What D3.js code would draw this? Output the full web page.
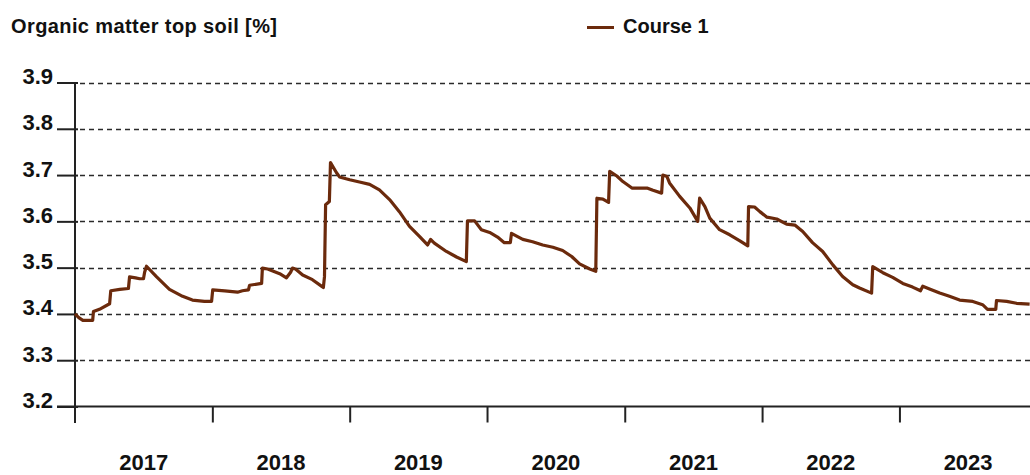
<!DOCTYPE html>
<html>
<head>
<meta charset="utf-8">
<script src="https://cdn.jsdelivr.net/npm/d3@7"></script>
<style>
  body { margin: 0; background: #fff; }
  text { font-family: "Liberation Sans", Arial, sans-serif; font-weight: bold; fill: #111; }
</style>
</head>
<body>
<svg id="chart" width="1030" height="475"></svg>
<script>
const width = 1030;
const height = 475;

const yTitle = "Organic matter top soil [%]";
const seriesName = "Course 1";
const yTicks = [3.2, 3.3, 3.4, 3.5, 3.6, 3.7, 3.8, 3.9];

// sample dates of the course
const dates = [
  "2017-01-01", "2017-01-11", "2017-01-22", "2017-02-17", "2017-02-19", "2017-03-07", "2017-04-03",
  "2017-04-06", "2017-04-30", "2017-05-23", "2017-05-26", "2017-06-11", "2017-06-22", "2017-07-02",
  "2017-07-05", "2017-07-10", "2017-08-06", "2017-09-09", "2017-10-14", "2017-11-09", "2017-12-11",
  "2017-12-30", "2018-01-02", "2018-02-03", "2018-03-09", "2018-03-22", "2018-04-07", "2018-04-10",
  "2018-05-12", "2018-05-14", "2018-05-28", "2018-06-29", "2018-07-17", "2018-07-28", "2018-08-02",
  "2018-08-10", "2018-08-29", "2018-09-24", "2018-10-18", "2018-10-23", "2018-10-26", "2018-10-29",
  "2018-11-08", "2018-11-11", "2018-11-27", "2018-12-05", "2019-01-01", "2019-01-27", "2019-02-23",
  "2019-03-21", "2019-04-17", "2019-05-13", "2019-06-09", "2019-07-06", "2019-07-27", "2019-08-04",
  "2019-08-14", "2019-09-15", "2019-10-12", "2019-11-07", "2019-11-10", "2019-11-29", "2019-12-17",
  "2020-01-08", "2020-01-29", "2020-02-16", "2020-03-03", "2020-03-06", "2020-04-05", "2020-05-01",
  "2020-05-28", "2020-06-24", "2020-07-20", "2020-08-13", "2020-09-03", "2020-09-30", "2020-10-16",
  "2020-10-19", "2020-11-04", "2020-11-19", "2020-11-22", "2020-12-11", "2020-12-27", "2021-01-20",
  "2021-03-01", "2021-03-17", "2021-04-09", "2021-04-12", "2021-04-23", "2021-04-30", "2021-05-27",
  "2021-06-23", "2021-07-14", "2021-07-19", "2021-08-02", "2021-08-15", "2021-09-10", "2021-10-07",
  "2021-11-03", "2021-11-24", "2021-11-26", "2021-12-12", "2021-12-26", "2022-01-14", "2022-02-09",
  "2022-03-07", "2022-03-29", "2022-04-19", "2022-05-15", "2022-06-11", "2022-07-08", "2022-08-03",
  "2022-08-30", "2022-09-17", "2022-10-19", "2022-10-22", "2022-11-18", "2022-12-14", "2023-01-10",
  "2023-02-05", "2023-02-26", "2023-03-04", "2023-03-22", "2023-04-18", "2023-05-14", "2023-06-10",
  "2023-07-15", "2023-08-10", "2023-08-23", "2023-09-14", "2023-09-16", "2023-10-13", "2023-11-08",
  "2023-12-13"
];

// organic matter [%]
const values = [
  3.400, 3.392, 3.386, 3.386, 3.405, 3.410, 3.422,
  3.450, 3.453, 3.455, 3.480, 3.478, 3.476, 3.476,
  3.490, 3.503, 3.480, 3.453, 3.438, 3.430, 3.427,
  3.427, 3.452, 3.450, 3.447, 3.450, 3.452, 3.462,
  3.466, 3.499, 3.497, 3.487, 3.478, 3.490, 3.499,
  3.497, 3.484, 3.474, 3.460, 3.457, 3.480, 3.636,
  3.643, 3.727, 3.705, 3.696, 3.690, 3.685, 3.680,
  3.668, 3.647, 3.621, 3.589, 3.567, 3.549, 3.561,
  3.553, 3.535, 3.523, 3.513, 3.601, 3.601, 3.582,
  3.576, 3.566, 3.554, 3.554, 3.574, 3.561, 3.556,
  3.549, 3.544, 3.537, 3.524, 3.508, 3.497, 3.492,
  3.650, 3.648, 3.641, 3.708, 3.698, 3.686, 3.672,
  3.672, 3.667, 3.661, 3.700, 3.697, 3.683, 3.654,
  3.629, 3.600, 3.650, 3.632, 3.607, 3.582, 3.571,
  3.558, 3.547, 3.632, 3.631, 3.621, 3.609, 3.605,
  3.594, 3.592, 3.578, 3.554, 3.535, 3.506, 3.481,
  3.463, 3.456, 3.445, 3.502, 3.489, 3.479, 3.466,
  3.458, 3.450, 3.460, 3.454, 3.445, 3.438, 3.430,
  3.427, 3.420, 3.410, 3.410, 3.429, 3.427, 3.423,
  3.421
];

const parse = d3.timeParse("%Y-%m-%d");
const data = dates.map((d, i) => ({ date: parse(d), value: values[i] }));

const svg = d3.select("#chart");

const x = d3.scaleTime()
  .domain([parse("2017-01-01"), parse("2023-12-14")])
  .range([75, 1030]);

const y = d3.scaleLinear()
  .domain([3.2, 3.9])
  .range([406.5, 82.5]);

// title + legend
svg.append("text")
  .attr("x", 11)
  .attr("y", 33)
  .attr("font-size", 20)
  .attr("letter-spacing", 0.4)
  .text(yTitle);

svg.append("line")
  .attr("x1", 587).attr("x2", 614)
  .attr("y1", 27.5).attr("y2", 27.5)
  .attr("stroke", "#6b2a0c")
  .attr("stroke-width", 3);

svg.append("text")
  .attr("x", 623)
  .attr("y", 33)
  .attr("font-size", 20)
  .text(seriesName);

// dashed grid
svg.append("g")
  .selectAll("line")
  .data(yTicks.filter(d => d > 3.2))
  .join("line")
  .attr("x1", 80).attr("x2", width)
  .attr("y1", d => Math.round(y(d)) + 0.5)
  .attr("y2", d => Math.round(y(d)) + 0.5)
  .attr("stroke", "#2a2a2a")
  .attr("stroke-width", 1.6)
  .attr("stroke-dasharray", "5,4");

// y axis
const yAxis = svg.append("g")
  .attr("transform", "translate(75,0)")
  .call(d3.axisLeft(y).tickValues(yTicks).tickFormat(d3.format(".1f")).tickSize(18).tickPadding(4));
yAxis.select(".domain").remove();
yAxis.selectAll(".tick line").attr("stroke", "#222").attr("stroke-width", 2).attr("x2", -18).attr("x1", 3);
yAxis.selectAll(".tick text")
  .attr("font-size", 22)
  .attr("dy", "0")
  .attr("y", 1)
  .attr("fill", "#111")
  .style("font-family", "'Liberation Sans', Arial, sans-serif")
  .style("font-weight", "bold");

svg.append("line")
  .attr("x1", 75).attr("x2", 75)
  .attr("y1", y(3.9)).attr("y2", 423)
  .attr("stroke", "#222").attr("stroke-width", 2);

// x axis
const years = d3.timeYear.range(parse("2017-01-01"), parse("2024-01-01"));
const xAxis = svg.append("g")
  .attr("transform", `translate(0,${y(3.2)})`)
  .call(d3.axisBottom(x).tickValues(years.slice(1)).tickSize(16).tickFormat(""));
xAxis.select(".domain").remove();
xAxis.selectAll(".tick line").attr("stroke", "#222").attr("stroke-width", 2);

svg.append("line")
  .attr("x1", 57).attr("x2", width)
  .attr("y1", y(3.2)).attr("y2", y(3.2))
  .attr("stroke", "#222").attr("stroke-width", 2);

// year labels centered between year ticks
svg.append("g")
  .selectAll("text")
  .data(years)
  .join("text")
  .attr("x", d => (x(d) + x(d3.timeYear.offset(d, 1))) / 2)
  .attr("y", 470)
  .attr("text-anchor", "middle")
  .attr("font-size", 22)
  .text(d => d3.timeFormat("%Y")(d));

// course line
const line = d3.line()
  .x(d => x(d.date))
  .y(d => y(d.value));

svg.append("path")
  .datum(data)
  .attr("fill", "none")
  .attr("stroke", "#6b2a0c")
  .attr("stroke-width", 3.2)
  .attr("stroke-linejoin", "round")
  .attr("d", line);
</script>
</body>
</html>
